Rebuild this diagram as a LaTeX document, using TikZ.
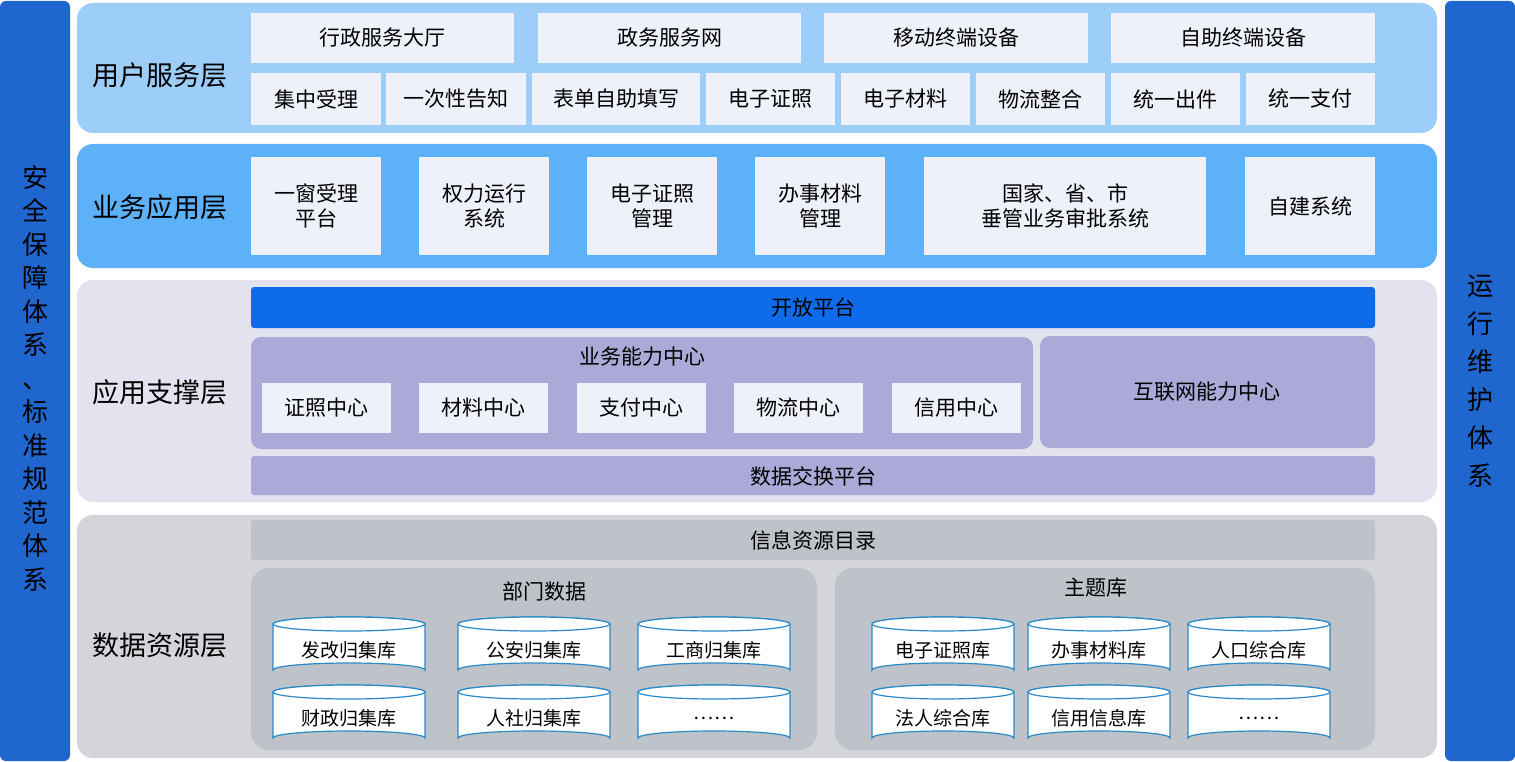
\documentclass[tikz,border=0pt]{standalone}
\usepackage{fontspec}
\setmainfont{Noto Sans CJK SC}
\begin{document}
\begin{tikzpicture}[x=1pt,y=-1pt,
 bar/.style={fill=side,rounded corners=6pt},
 layer/.style={rounded corners=16pt},
 box/.style={fill=boxc},
 lbl/.style={font=\fontsize{27}{30}\selectfont},
 bt/.style={font=\fontsize{21}{25}\selectfont,align=center},
 ct/.style={font=\fontsize{19}{22}\selectfont},
 cyl/.style={draw=cylb,line width=1.2pt,fill=white}]
\definecolor{side}{HTML}{1F66CF}
\definecolor{l1}{HTML}{9DCDF9}
\definecolor{l2}{HTML}{5CB1F8}
\definecolor{l3}{HTML}{E3E3F0}
\definecolor{l4}{HTML}{D4D5DA}
\definecolor{boxc}{HTML}{EEF1FA}
\definecolor{open}{HTML}{0E6BE9}
\definecolor{purp}{HTML}{ABA9D8}
\definecolor{grayb}{HTML}{BEC2C9}
\definecolor{cylb}{HTML}{2A8AC8}
\useasboundingbox (0,0) rectangle (1515,762);
% side bars
\fill[bar] (0,1) rectangle (70,761);
\node[font=\fontsize{26}{33.5}\selectfont,align=center] (left) at (35,378) {安\\全\\保\\障\\体\\系\\、\\标\\准\\规\\范\\体\\系};
\fill[bar] (1445,1) rectangle (1515,761);
\node[font=\fontsize{26}{38}\selectfont,align=center] (right) at (1480,381) {运\\行\\维\\护\\体\\系};
% layer 1
\fill[l1,layer] (77,3) rectangle (1437,133);
\node[lbl] (n1) at (160,75) {用户服务层};
\foreach \a/\b/\t [count=\i] in {251/514/行政服务大厅,538/801/政务服务网,824/1088/移动终端设备,1111/1375/自助终端设备}{
 \fill[box] (\a,13) rectangle (\b,63);
 \node[bt] (u\i) at ({(\a+\b)/2},38) {\t};}
\foreach \a/\b/\t [count=\i] in {251/381/集中受理,386/526/一次性告知,532/700/表单自助填写,706/835/电子证照,841/970/电子材料,976/1105/物流整合,1111/1240/统一出件,1246/1375/统一支付}{
 \fill[box] (\a,73) rectangle (\b,125);
 \node[bt] (v\i) at ({(\a+\b)/2},99) {\t};}
% layer 2
\fill[l2,layer] (77,144) rectangle (1437,268);
\node[lbl] (n2) at (160,207) {业务应用层};
\foreach \a/\b/\t [count=\i] in {251/381/{一窗受理\\平台},419/549/{权力运行\\系统},587/717/{电子证照\\管理},755/885/{办事材料\\管理},924/1206/{国家、省、市\\垂管业务审批系统},1245/1375/自建系统}{
 \fill[box] (\a,157) rectangle (\b,255);
 \node[bt] (w\i) at ({(\a+\b)/2},206) {\t};}
% layer 3
\fill[l3,layer] (77,280) rectangle (1437,502);
\node[lbl] (n3) at (160,392) {应用支撑层};
\fill[open,rounded corners=3pt] (251,287) rectangle (1375,328);
\node[bt] (open) at (813,308) {开放平台};
\fill[purp,rounded corners=10pt] (251,337) rectangle (1033,449);
\node[bt] (bc) at (642,357) {业务能力中心};
\foreach \a/\t [count=\i] in {262/证照中心,419/材料中心,577/支付中心,734/物流中心,892/信用中心}{
 \fill[box] (\a,383) rectangle ({\a+129},433);
 \node[bt] (c\i) at ({\a+64.5},408) {\t};}
\fill[purp,rounded corners=10pt] (1040,336) rectangle (1375,448);
\node[bt] (net) at (1207,392) {互联网能力中心};
\fill[purp,rounded corners=3pt] (251,456) rectangle (1375,495);
\node[bt] (ex) at (813,476) {数据交换平台};
% layer 4
\fill[l4,layer] (77,515) rectangle (1437,758);
\node[lbl] (n4) at (160,645) {数据资源层};
\fill[grayb,rounded corners=3pt] (251,520) rectangle (1375,560);
\node[bt] (dir) at (813,540) {信息资源目录};
\fill[grayb,rounded corners=18pt] (251,568) rectangle (817,750);
\node[bt] (dept) at (544,592) {部门数据};
\fill[grayb,rounded corners=18pt] (835,568) rectangle (1375,750);
\node[bt] (topic) at (1096,588) {主题库};
\foreach \a/\b/\y/\t [count=\i] in {273/425/617/发改归集库,458/610/617/公安归集库,638/790/617/工商归集库,273/425/685/财政归集库,458/610/685/人社归集库,638/790/685/……,872/1014/617/电子证照库,1028/1170/617/办事材料库,1188/1330/617/人口综合库,872/1014/685/法人综合库,1028/1170/685/信用信息库,1188/1330/685/……}{
 \draw[cyl] (\a,\y+7) -- (\a,\y+53) arc[start angle=180,end angle=360,x radius={(\b-\a)/2},y radius=7] -- (\b,\y+7) arc[start angle=0,end angle=-180,x radius={(\b-\a)/2},y radius=7];
 \draw[cyl] ({(\a+\b)/2},\y+7) ellipse [x radius={(\b-\a)/2},y radius=7];
 \node[ct] (d\i) at ({(\a+\b)/2},\y+33) {\t};}
\end{tikzpicture}
\end{document}
